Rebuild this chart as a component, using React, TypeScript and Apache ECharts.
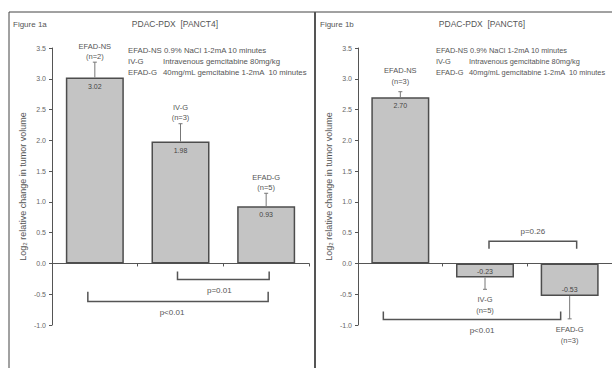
import React, { useEffect, useRef } from "react";
import * as echarts from "echarts";

const categories = ["EFAD-NS", "IV-G", "EFAD-G"];
const valuesA = [3.02, 1.98, 0.93];
const errEndA = [3.27, 2.27, 1.14];
const countsA = [2, 3, 5];
const valuesB = [2.7, -0.23, -0.53];
const errEndB = [2.79, -0.42, -0.9];
const countsB = [3, 5, 3];
const yMin = -1.0;
const yMax = 3.5;
const yStep = 0.5;

const titleA = "PDAC-PDX  [PANCT4]";
const titleB = "PDAC-PDX  [PANCT6]";
const figA = "Figure 1a";
const figB = "Figure 1b";
const yName = "Log\u2082 relative change in tumor volume";
const legendKeys = ["EFAD-NS", "IV-G", "EFAD-G"];
const legendDesc = [
  "0.9% NaCl 1-2mA 10 minutes",
  "Intravenous gemcitabine 80mg/kg",
  "40mg/mL gemcitabine 1-2mA  10 minutes",
];

// significance brackets: categories spanned, level of bar, level of tips
const bracketsA = [
  { from: 1, to: 2, level: -0.26, tip: -0.13, text: "p=0.01" },
  { from: 0, to: 2, level: -0.62, tip: -0.46, text: "p<0.01" },
];
const bracketsB = [
  { from: 1, to: 2, level: 0.36, tip: 0.24, text: "p=0.26" },
  { from: 0, to: 2, level: -0.91, tip: -0.78, text: "p<0.01" },
];
const bracketOffsetsA = [
  { dx0: -3, dx1: 3, tdx: -4 },
  { dx0: -7, dx1: 2, tdx: -6 },
];
const bracketOffsetsB = [
  { dx0: 4, dx1: 7, tdx: 0 },
  { dx0: -17, dx1: -9, tdx: 10 },
];

const FONT = "'Liberation Sans', Arial, sans-serif";
const TXT = "#555";
const AX = "#555";

function makeErr(
  xi: number,
  yi: number,
  values: number[],
  ends: number[],
  counts: number[],
  gap: number,
  lh: number
) {
  return {
    type: "custom",
    xAxisIndex: xi,
    yAxisIndex: yi,
    z: 5,
    data: values.map((v, i) => [i, v, ends[i]]),
    encode: { x: 0, y: [1, 2] },
    renderItem: (params: any, api: any) => {
      const i = api.value(0);
      const v = api.value(1);
      const e = api.value(2);
      const p0 = api.coord([i, v]);
      const p1 = api.coord([i, e]);
      const up = e >= 0;
      const label = categories[params.dataIndex] + "\n(n=" + counts[params.dataIndex] + ")";
      return {
        type: "group",
        children: [
          {
            type: "line",
            shape: { x1: p0[0], y1: p0[1], x2: p1[0], y2: p1[1] },
            style: { stroke: "#777", lineWidth: 1 },
          },
          {
            type: "line",
            shape: { x1: p1[0] - 2, y1: p1[1], x2: p1[0] + 2, y2: p1[1] },
            style: { stroke: "#777", lineWidth: 1 },
          },
          {
            type: "text",
            x: p1[0],
            y: up ? p1[1] - gap : p1[1] + gap,
            style: {
              text: label,
              fill: TXT,
              fontSize: 7.5,
              fontFamily: FONT,
              lineHeight: lh,
              align: "center",
              textAlign: "center",
              verticalAlign: up ? "bottom" : "top",
              textVerticalAlign: up ? "bottom" : "top",
            },
          },
        ],
      };
    },
  };
}

function makeBrackets(xi: number, yi: number, list: any[], offs: any[]) {
  return {
    type: "custom",
    xAxisIndex: xi,
    yAxisIndex: yi,
    z: 6,
    data: list.map((b) => [b.from, b.level]),
    encode: { x: 0, y: 1 },
    renderItem: (params: any, api: any) => {
      const b = list[params.dataIndex];
      const o = offs[params.dataIndex];
      const pa = api.coord([b.from, b.level]);
      const pb = api.coord([b.to, b.level]);
      const pt = api.coord([b.from, b.tip]);
      const xa = pa[0] + o.dx0;
      const xb = pb[0] + o.dx1;
      const yl = pa[1];
      const yt = pt[1];
      const textBelow = b.tip > b.level;
      return {
        type: "group",
        children: [
          {
            type: "polyline",
            shape: { points: [[xa, yt], [xa, yl], [xb, yl], [xb, yt]] },
            style: { stroke: "#555", lineWidth: 1.5, fill: "none" },
          },
          {
            type: "text",
            x: (xa + xb) / 2 + o.tdx,
            y: textBelow ? yl + 11 : yl - 10,
            style: {
              text: b.text,
              fill: TXT,
              fontSize: 8,
              fontFamily: FONT,
              align: "center",
              textAlign: "center",
              verticalAlign: "middle",
              textVerticalAlign: "middle",
            },
          },
        ],
      };
    },
  };
}

function makeBar(xi: number, yi: number, values: number[]) {
  return {
    type: "bar",
    xAxisIndex: xi,
    yAxisIndex: yi,
    barWidth: 58,
    z: 3,
    itemStyle: { color: "#c4c4c4", borderColor: "#4d4d4d", borderWidth: 1.5 },
    data: values.map((v) => ({
      value: v,
      label: {
        show: true,
        position: v >= 0 ? "insideTop" : "insideBottom",
        distance: v >= 0 ? 5 : 3,
        formatter: (p: any) => Number(p.value).toFixed(2),
        fontSize: 7,
        fontFamily: FONT,
        color: "#444",
      },
    })),
  };
}

function makeX(gi: number) {
  return {
    type: "category",
    gridIndex: gi,
    data: categories,
    axisLine: { onZero: true, lineStyle: { color: AX, width: 1 } },
    axisTick: { show: true, length: 3, lineStyle: { color: AX } },
    axisLabel: { show: false },
    splitLine: { show: false },
  };
}

function makeY(gi: number) {
  return {
    type: "value",
    gridIndex: gi,
    min: yMin,
    max: yMax,
    interval: yStep,
    name: yName,
    nameLocation: "middle",
    nameGap: 25,
    nameRotate: 90,
    nameTextStyle: { fontSize: 9, fontFamily: FONT, color: TXT },
    axisLine: { show: true, lineStyle: { color: AX, width: 1 } },
    axisTick: { show: true, length: 3, lineStyle: { color: AX } },
    axisLabel: {
      fontSize: 7,
      fontFamily: FONT,
      color: "#666",
      margin: 6,
      formatter: (v: number) => v.toFixed(1),
    },
    splitLine: { show: false },
  };
}

function txt(x: number, y: number, text: string, size: number, align = "left") {
  return {
    type: "text",
    x,
    y,
    style: {
      text,
      fill: TXT,
      fontSize: size,
      fontFamily: FONT,
      align,
      textAlign: align,
      verticalAlign: "middle",
      textVerticalAlign: "middle",
    },
  };
}

function legendGraphics(x0: number, x1: number, size: number) {
  const rows = [50, 61, 72];
  const out: any[] = [];
  legendKeys.forEach((k, i) => {
    if (i === 0) {
      out.push(txt(x0, rows[i], k + " " + legendDesc[i], size));
    } else {
      out.push(txt(x0, rows[i], k, size));
      out.push(txt(x1, rows[i], legendDesc[i], size));
    }
  });
  return out;
}

export default function App() {
  const ref = useRef<HTMLDivElement>(null);
  useEffect(() => {
    if (!ref.current) return;
    const chart = echarts.init(ref.current, undefined, { renderer: "svg" });
    chart.setOption({
      animation: false,
      backgroundColor: "#fff",
      grid: [
        { left: 52, top: 48, width: 257, height: 277 },
        { left: 358, top: 48, width: 257, height: 277 },
      ],
      xAxis: [makeX(0), makeX(1)],
      yAxis: [makeY(0), makeY(1)],
      series: [
        makeBar(0, 0, valuesA),
        makeErr(0, 0, valuesA, errEndA, countsA, 1, 10),
        makeBrackets(0, 0, bracketsA, bracketOffsetsA),
        makeBar(1, 1, valuesB),
        makeErr(1, 1, valuesB, errEndB, countsB, 5, 11),
        makeBrackets(1, 1, bracketsB, bracketOffsetsB),
      ],
      graphic: [
        { type: "line", shape: { x1: 9, y1: 12, x2: 612, y2: 12 }, style: { stroke: "#444", lineWidth: 1 } },
        { type: "line", shape: { x1: 9, y1: 12, x2: 9, y2: 368 }, style: { stroke: "#444", lineWidth: 1 } },
        { type: "line", shape: { x1: 315, y1: 12, x2: 315, y2: 368 }, style: { stroke: "#555", lineWidth: 2 } },
        txt(13, 24, figA, 8),
        txt(175, 24, titleA, 8.5, "center"),
        txt(320, 24, figB, 8),
        txt(482, 24, titleB, 8.5, "center"),
        ...legendGraphics(128, 163, 7.8),
        ...legendGraphics(436, 469, 7.4),
      ],
    });
    return () => chart.dispose();
  }, []);
  return (
    <div
      ref={ref}
      style={{ position: "absolute", left: 0, top: 0, width: 612, height: 368 }}
    />
  );
}
